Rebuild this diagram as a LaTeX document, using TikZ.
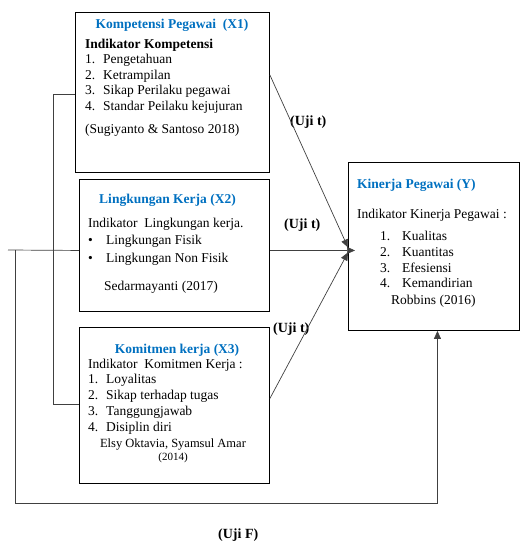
\documentclass[tikz,border=0pt]{standalone}
\usepackage{fontspec}
\setmainfont{Liberation Serif}
\usepackage{xcolor}
\usetikzlibrary{arrows.meta}
\definecolor{birujudul}{RGB}{0,112,192}

\begin{document}
\begin{tikzpicture}[x=1pt,y=-1pt,
                    kotak/.style={draw, line width=0.9pt, inner sep=0pt, anchor=north west},
                    teks/.style={anchor=base west, inner sep=0pt, font=\fontsize{13.5}{15}\selectfont},
                    judul/.style={anchor=base, inner sep=0pt, text=birujudul,
                                  font=\fontsize{13.5}{15}\selectfont\bfseries},
                    uji/.style={anchor=base west, inner sep=0pt, font=\fontsize{14}{16}\selectfont\bfseries},
                    garis/.style={line width=0.7pt, draw=black!75},
                    panah/.style={garis, -{Triangle[length=8pt,width=7pt]}}]
                    \useasboundingbox (0,0) rectangle (520,541);
                    % kotak variabel
                    \node[kotak, minimum width=194pt, minimum height=160pt] (x1) at (75,12) {};
                    \node[kotak, minimum width=190pt, minimum height=132pt] (x2) at (79,179) {};
                    \node[kotak, minimum width=190pt, minimum height=156pt] (x3) at (79,327) {};
                    \node[kotak, minimum width=171pt, minimum height=168pt] (y) at (348,162) {};
                    % X1
                    \node[judul] (x1judul) at (172,28) {Kompetensi Pegawai\ \ (X1)};
                    \node[teks, font=\fontsize{13.5}{15}\selectfont\bfseries] (x1ind) at (85,48) {Indikator Kompetensi};
                    \foreach \n/\t/\yy in {1/Pengetahuan/63, 2/Ketrampilan/79,
                                           3/Sikap Perilaku pegawai/94, 4/Standar Peilaku kejujuran/110}
                        \node[teks] (x1item\n) at (85,\yy) {\makebox[18pt][l]{\n.}\t};
                    \node[teks] (x1sumber) at (85,133) {(Sugiyanto \& Santoso 2018)};
                    % X2
                    \node[judul] (x2judul) at (167.5,203) {Lingkungan Kerja (X2)};
                    \node[teks] (x2ind) at (88,227) {Indikator\ \ Lingkungan kerja.};
                    \foreach \n/\t/\yy in {1/Lingkungan Fisik/244, 2/Lingkungan Non Fisik/262}
                        \node[teks] (x2item\n) at (88,\yy) {\makebox[18pt][l]{\textbullet}\t};
                    \node[teks] (x2sumber) at (104,290) {Sedarmayanti (2017)};
                    % X3
                    \node[judul] (x3judul) at (177,353) {Komitmen kerja (X3)};
                    \node[teks] (x3ind) at (88,368) {Indikator\ \ Komitmen Kerja :};
                    \foreach \n/\t/\yy in {1/Loyalitas/383, 2/Sikap terhadap tugas/399,
                                           3/Tanggungjawab/415, 4/Disiplin diri/431}
                        \node[teks] (x3item\n) at (88,\yy) {\makebox[18pt][l]{\n.}\t};
                    \node[teks, anchor=base, font=\fontsize{12.5}{14}\selectfont] (x3sumber) at (173,447) {Elsy Oktavia, Syamsul Amar};
                    \node[teks, anchor=base, font=\fontsize{11}{13}\selectfont] (x3tahun) at (173,460) {(2014)};
                    % Y
                    \node[judul, anchor=base west] (yjudul) at (357,188) {Kinerja Pegawai (Y)};
                    \node[teks] (yind) at (357,218) {Indikator Kinerja Pegawai :};
                    \foreach \n/\t/\yy in {1/Kualitas/240, 2/Kuantitas/256, 3/Efesiensi/272, 4/Kemandirian/287}
                        \node[teks] (yitem\n) at (380,\yy) {\makebox[22pt][l]{\n.}\t};
                    \node[teks] (ysumber) at (391,304) {Robbins (2016)};
                    % label uji
                    \node[uji] (ujit1) at (290,125) {(Uji t)};
                    \node[uji] (ujit2) at (284,228) {(Uji t)};
                    \node[uji] (ujit3) at (273,332) {(Uji t)};
                    \node[uji] (ujif) at (218,538) {(Uji F)};
                    % panah parsial
                    \draw[panah] ([yshift=-63pt]x1.north east) -- ([yshift=-1pt]y.west);
                    \draw[panah] ([yshift=-5pt]x2.east) -- ([xshift=7pt,yshift=-4pt]y.west);
                    \draw[panah] ([yshift=7pt]x3.east) -- ([yshift=-6pt]y.west);
                    % garis simultan
                    \draw[garis] ([yshift=-2pt]x1.west) -- ++(-22,0) |- ([yshift=1pt]x3.west);
                    \coordinate (kiri) at (8,250);
                    \coordinate (bawah) at (15,503);
                    \draw[garis] ([yshift=-5pt]x2.west) -- (kiri);
                    \draw[panah] ([xshift=7pt]kiri) -- (bawah) -| ([xshift=3.5pt]y.south);
                \end{tikzpicture}
\end{document}
